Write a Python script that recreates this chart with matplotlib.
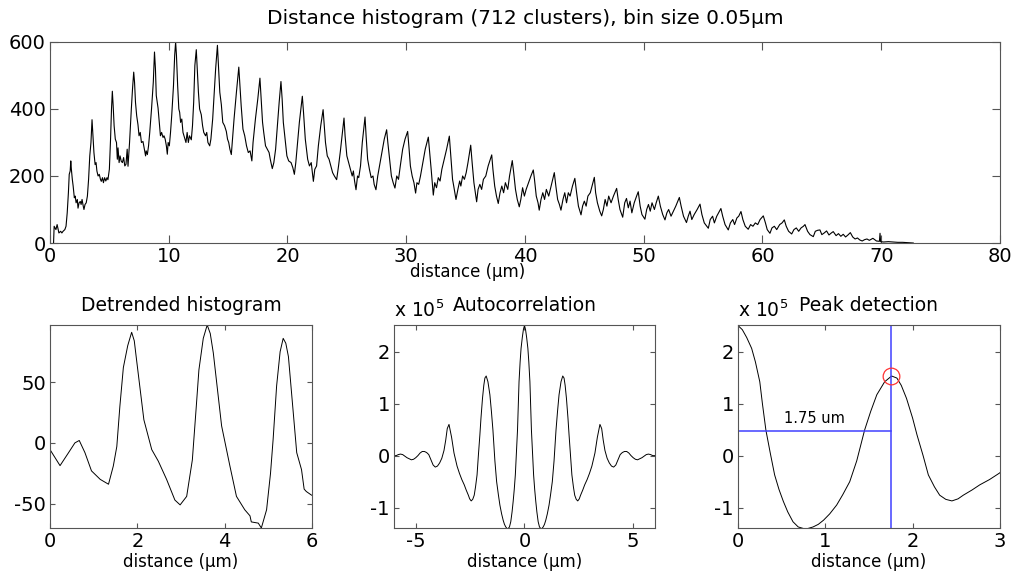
############################################################
# distance histogram + detrended / autocorrelation / peak panels
import numpy as np
import matplotlib
matplotlib.use('Agg')
import matplotlib.pyplot as plt

############################################################
# data
############################################################

# top panel: distance histogram (um, counts)
hist_x = [0.30, 0.35, 0.5, 0.6, 0.75, 0.9, 1.0, 1.1, 1.25, 1.35, 1.45, 1.55, 1.62, 1.7, 1.75, 1.8, 1.88, 1.95,
          2.05, 2.12, 2.2, 2.3, 2.36, 2.45, 2.55, 2.62, 2.7, 2.8, 2.86, 2.95, 3.05, 3.15, 3.25, 3.35, 3.45, 3.54,
          3.6, 3.7, 3.8, 3.88, 3.95, 4.05, 4.15, 4.25, 4.32, 4.42, 4.5, 4.6, 4.7, 4.8, 4.88, 5.0, 5.1, 5.18, 5.25,
          5.32, 5.4, 5.5, 5.6, 5.67, 5.73, 5.82, 5.9, 6.0, 6.1, 6.2, 6.3, 6.4, 6.5, 6.57, 6.7, 6.85, 6.95, 7.05,
          7.12, 7.2, 7.3, 7.41, 7.5, 7.6, 7.7, 7.83, 7.95, 8.05, 8.1, 8.2, 8.3, 8.4, 8.55, 8.7, 8.8, 8.88, 8.95,
          9.1, 9.2, 9.3, 9.4, 9.52, 9.6, 9.7, 9.8, 9.88, 9.95, 10.05, 10.15, 10.25, 10.4, 10.5, 10.58, 10.65,
          10.75, 10.85, 10.92, 11.0, 11.1, 11.2, 11.34, 11.45, 11.55, 11.65, 11.75, 11.9, 12.0, 12.1, 12.2, 12.32,
          12.4, 12.5, 12.6, 12.74, 12.85, 12.95, 13.1, 13.2, 13.3, 13.45, 13.55, 13.7, 13.8, 13.95, 14.1, 14.2,
          14.3, 14.43, 14.55, 14.7, 14.85, 14.95, 15.05, 15.15, 15.27, 15.35, 15.5, 15.7, 15.9, 16.0, 16.1, 16.25,
          16.4, 16.55, 16.7, 16.85, 17.0, 17.1, 17.3, 17.5, 17.68, 17.78, 17.9, 18.0, 18.15, 18.3, 18.45, 18.55,
          18.72, 18.85, 19.0, 19.15, 19.3, 19.45, 19.55, 19.65, 19.8, 19.95, 20.1, 20.3, 20.45, 20.58, 20.7,
          20.85, 21.0, 21.25, 21.35, 21.5, 21.7, 21.85, 22.0, 22.1, 22.18, 22.3, 22.45, 22.6, 22.8, 23.0, 23.1,
          23.2, 23.35, 23.5, 23.65, 23.8, 23.95, 24.14, 24.3, 24.45, 24.6, 24.76, 24.85, 25.0, 25.15, 25.3,
          25.45, 25.55, 25.65, 25.77, 25.9, 26.0, 26.15, 26.3, 26.53, 26.62, 26.75, 26.9, 27.05, 27.2, 27.3,
          27.45, 27.6, 27.75, 27.95, 28.15, 28.35, 28.45, 28.6, 28.75, 28.9, 29.05, 29.2, 29.35, 29.5, 29.7,
          29.9, 30.12, 30.22, 30.35, 30.5, 30.65, 30.79, 30.9, 31.05, 31.2, 31.4, 31.6, 31.86, 31.95, 32.1,
          32.28, 32.4, 32.55, 32.7, 32.85, 33.0, 33.2, 33.4, 33.63, 33.75, 33.9, 34.0, 34.19, 34.35, 34.5, 34.6,
          34.75, 34.9, 35.05, 35.2, 35.43, 35.55, 35.7, 35.93, 36.05, 36.2, 36.35, 36.5, 36.7, 36.9, 37.2, 37.3,
          37.45, 37.6, 37.75, 37.9, 38.05, 38.2, 38.35, 38.55, 38.7, 38.93, 39.05, 39.2, 39.35, 39.52, 39.65,
          39.8, 39.95, 40.1, 40.3, 40.5, 40.7, 40.8, 40.95, 41.1, 41.2, 41.35, 41.5, 41.65, 41.8, 42.0, 42.2,
          42.47, 42.6, 42.75, 42.9, 43.03, 43.2, 43.35, 43.5, 43.65, 43.8, 44.0, 44.2, 44.35, 44.5, 44.72, 44.85,
          45.0, 45.15, 45.3, 45.5, 45.84, 45.95, 46.1, 46.3, 46.46, 46.6, 46.75, 46.9, 47.05, 47.25, 47.45, 47.72,
          47.85, 48.0, 48.23, 48.4, 48.55, 48.7, 48.85, 49.0, 49.2, 49.4, 49.54, 49.7, 49.85, 50.1, 50.25, 50.4,
          50.55, 50.7, 50.9, 51.05, 51.23, 51.4, 51.6, 51.79, 51.95, 52.1, 52.3, 52.5, 52.7, 53.0, 53.15, 53.35,
          53.6, 53.75, 53.9, 54.05, 54.25, 54.5, 54.74, 54.9, 55.1, 55.44, 55.6, 55.8, 55.95, 56.15, 56.3, 56.5,
          56.65, 56.85, 57.12, 57.3, 57.5, 57.65, 57.85, 58.0, 58.19, 58.35, 58.55, 58.8, 59.0, 59.2, 59.4, 59.6,
          59.8, 60.07, 60.25, 60.4, 60.63, 60.8, 61.0, 61.2, 61.45, 61.65, 61.84, 62.0, 62.2, 62.46, 62.65, 62.85,
          63.05, 63.25, 63.45, 63.58, 63.8, 64.0, 64.28, 64.45, 64.65, 64.84, 65.0, 65.2, 65.4, 65.6, 65.8, 65.96,
          66.2, 66.4, 66.6, 66.8, 67.0, 67.2, 67.4, 67.6, 67.8, 68.0, 68.2, 68.4, 68.6, 68.8, 69.0, 69.3, 69.6,
          69.85, 69.9, 69.95, 70.2, 70.6, 71.0, 71.4, 71.8, 72.2, 72.7]
hist_y = [0, 50, 40, 55, 30, 35, 30, 35, 40, 50, 90, 150, 205, 215, 245, 220, 190, 170,
          135, 140, 120, 130, 104, 120, 124, 115, 130, 110, 100, 115, 120, 140, 190, 260, 300, 368,
          330, 270, 234, 240, 215, 200, 205, 190, 184, 195, 180, 195, 185, 195, 189, 220, 310, 400, 453,
          410, 350, 310, 300, 250, 284, 240, 260, 244, 240, 255, 230, 235, 280, 229, 300, 400, 460, 510,
          480, 420, 380, 353, 320, 330, 300, 303, 280, 260, 275, 264, 290, 330, 400, 480, 570, 520, 440,
          403, 360, 320, 330, 315, 320, 310, 290, 265, 300, 290, 330, 380, 470, 560, 600, 560,
          470, 400, 390, 360, 370, 330, 313, 300, 330, 300, 320, 308, 350, 420, 530, 577,
          520, 450, 400, 383, 350, 330, 320, 330, 300, 290, 310, 370, 430, 520, 590, 520,
          450, 413, 360, 350, 333, 310, 300, 280, 264, 300, 370, 450, 525, 470, 410, 340,
          320, 290, 270, 275, 245, 300, 370, 430, 492, 430, 360, 330, 290, 280, 270, 250,
          222, 240, 280, 350, 420, 482, 430, 360, 310, 260, 245, 240, 225, 205, 240,
          300, 360, 438, 390, 310, 250, 230, 240, 210, 184, 220, 230, 290, 350, 398, 350,
          300, 260, 250, 230, 210, 200, 189, 230, 273, 320, 373, 320, 260, 240, 220,
          200, 215, 185, 159, 200, 195, 230, 300, 376, 320, 250, 220, 195, 200, 175,
          159, 200, 230, 270, 310, 338, 300, 250, 200, 180, 164, 200, 190, 230, 280,
          310, 333, 290, 230, 200, 180, 149, 180, 175, 200, 240, 280, 316, 280, 220,
          143, 180, 165, 195, 185, 220, 250, 280, 319, 260, 190, 170, 130, 160, 185, 170,
          200, 190, 210, 240, 292, 240, 180, 123, 160, 175, 160, 190, 200, 230, 263, 220,
          170, 140, 118, 150, 170, 150, 180, 160, 200, 246, 210, 160, 130, 108, 130,
          165, 140, 160, 180, 200, 218, 190, 140, 120, 98, 130, 150, 130, 160, 140, 170,
          210, 170, 130, 115, 98, 130, 150, 120, 150, 140, 170, 193, 150, 110, 84, 110,
          125, 110, 140, 150, 196, 150, 120, 95, 81, 100, 130, 110, 140, 120, 140, 163,
          130, 100, 77, 120, 133, 105, 125, 90, 120, 140, 153, 110, 85, 71, 100, 115,
          95, 120, 100, 120, 140, 110, 85, 69, 90, 100, 80, 95, 110, 136, 110, 80,
          61, 80, 95, 70, 85, 100, 116, 85, 60, 44, 70, 80, 60, 80, 90, 103,
          80, 55, 39, 60, 70, 55, 75, 80, 94, 70, 50, 41, 55, 50, 60, 55,
          70, 81, 60, 40, 29, 45, 50, 40, 55, 60, 69, 50, 35, 27, 40, 45,
          35, 45, 50, 55, 35, 25, 19, 35, 38, 39, 25, 30, 36, 24, 30, 34,
          22, 28, 20, 26, 18, 24, 31, 18, 12, 15, 9, 6, 10, 12, 8, 14, 6,
          5, 29, 4, 3, 4, 3, 2, 2, 1, 0]

# bottom left: detrended histogram
det_x = [0.0, 0.23, 0.42, 0.57, 0.67, 0.8, 0.95, 1.15, 1.34, 1.45, 1.53, 1.6, 1.68, 1.78, 1.87, 1.93, 1.98,
         2.15, 2.33, 2.48, 2.67, 2.86, 2.98, 3.13, 3.26, 3.35, 3.41, 3.51, 3.6, 3.67, 3.74, 3.93, 4.12, 4.27,
         4.46, 4.58, 4.61, 4.77, 4.84, 4.96, 5.05, 5.11, 5.19, 5.27, 5.34, 5.4, 5.46, 5.65, 5.76, 5.82, 5.87,
         5.99]
det_y = [-5.5, -18.7, -8.3, 0, 2, -8, -23, -30, -34, -19, -3, 30, 62, 80, 91, 84, 69,
         19, -5.5, -15, -30, -47, -51, -44, -14, 30, 60, 86, 97, 90, 74, 14, -19, -44,
         -55, -60, -65, -66, -70, -55, -25, 3, 47, 75, 86, 82, 71, -8, -22, -38, -40,
         -43]

# autocorrelation, positive lags (x1e5); curve is symmetric
acf_x = [0.0, 0.05, 0.1, 0.157, 0.2, 0.25, 0.28, 0.32, 0.37, 0.42, 0.47, 0.52, 0.57, 0.63, 0.69, 0.75,
         0.8, 0.86, 0.92, 0.98, 1.05, 1.13, 1.2, 1.28, 1.36, 1.45, 1.52, 1.59, 1.68, 1.76, 1.82, 1.87, 1.93,
         2.0, 2.05, 2.12, 2.18, 2.25, 2.31, 2.38, 2.45, 2.52, 2.58, 2.68, 2.77, 2.88, 2.99, 3.1, 3.24, 3.35,
         3.47, 3.55, 3.62, 3.7, 3.8, 3.9, 4.0, 4.1, 4.2, 4.3, 4.4, 4.5, 4.6, 4.7, 4.8, 4.9, 5.0, 5.1, 5.2,
         5.3, 5.4, 5.5, 5.6, 5.7, 5.8, 5.9, 6.0]
acf_y = [2.50, 2.42, 2.27, 2.06, 1.8, 1.42, 1.0, 0.49, 0.05, -0.37, -0.65, -0.88, -1.08, -1.27, -1.37, -1.40,
         -1.40, -1.37, -1.32, -1.24, -1.12, -0.95, -0.75, -0.50, -0.10, 0.49, 0.85, 1.17, 1.42, 1.53, 1.49,
         1.35, 1.10, 0.72, 0.40, 0.0, -0.37, -0.60, -0.76, -0.84, -0.87, -0.83, -0.76, -0.66, -0.56, -0.46,
         -0.34, -0.20, 0.05, 0.35, 0.60, 0.52, 0.30, 0.10, -0.05, -0.14, -0.20, -0.22, -0.18, -0.08, 0.02,
         0.06, 0.08, 0.08, 0.05, 0.0, -0.04, -0.07, -0.08, -0.06, -0.04, -0.01, 0.02, 0.03, 0.02, 0.0, 0.0]

peak_x = 1.75   # detected period (um)
peak_y = 1.53
half_y = 0.48   # level of the horizontal marker

############################################################
# figure
############################################################
plt.rcParams['font.family'] = 'DejaVu Sans'
plt.rcParams['axes.unicode_minus'] = False
plt.rcParams['xtick.direction'] = 'in'
plt.rcParams['ytick.direction'] = 'in'
plt.rcParams['xtick.top'] = True
plt.rcParams['ytick.right'] = True
plt.rcParams['axes.edgecolor'] = '#555555'
plt.rcParams['xtick.color'] = '#555555'
plt.rcParams['ytick.color'] = '#555555'
plt.rcParams['xtick.labelcolor'] = 'black'
plt.rcParams['ytick.labelcolor'] = 'black'

fig = plt.figure(figsize=(10.12, 5.79), dpi=100)

def style(ax, tl):
    ax.tick_params(labelsize=14, length=tl, width=0.8, pad=3)

### top: histogram ###
ax0 = fig.add_axes([0.0494, 0.5803, 0.9387, 0.3472])
ax0.plot(hist_x, hist_y, color='k', linewidth=0.8)
ax0.set_xlim(0, 80)
ax0.set_ylim(0, 600)
ax0.set_xticks(np.arange(0, 81, 10))
ax0.set_yticks([0, 200, 400, 600])
style(ax0, 6)
ax0.set_title('Distance histogram (712 clusters), bin size 0.05µm', fontsize=14.5, pad=13)
ax0.set_xlabel('distance (µm)', fontsize=12, labelpad=0)
ax0.xaxis.set_label_coords(0.44, -0.1)

### bottom left: detrended ###
ax1 = fig.add_axes([0.0494, 0.0881, 0.2589, 0.3506])
ax1.plot(det_x, det_y, color='k', linewidth=0.7)
ax1.set_xlim(0, 6)
ax1.set_ylim(-70, 97)
ax1.set_xticks([0, 2, 4, 6])
ax1.set_yticks([-50, 0, 50])
style(ax1, 3.5)
ax1.set_title('Detrended histogram', fontsize=13.5, pad=10)
ax1.set_xlabel('distance (µm)', fontsize=12, labelpad=1)

### bottom middle: autocorrelation ###
acf_full_x = np.concatenate([-np.array(acf_x[::-1]), acf_x[1:]])
acf_full_y = np.concatenate([acf_y[::-1], acf_y[1:]])
ax2 = fig.add_axes([0.3893, 0.0881, 0.2579, 0.3506])
ax2.plot(acf_full_x, acf_full_y, color='k', linewidth=0.7)
ax2.set_xlim(-6, 6)
ax2.set_ylim(-1.39, 2.51)
ax2.set_xticks([-5, 0, 5])
ax2.set_yticks([-1, 0, 1, 2])
style(ax2, 3.5)
ax2.set_title('Autocorrelation', fontsize=13.5, pad=10)
ax2.text(0.0, 1.02, 'x 10$^5$', transform=ax2.transAxes, fontsize=13.5, ha='left', va='bottom')
ax2.set_xlabel('distance (µm)', fontsize=12, labelpad=1)

### bottom right: peak detection ###
ax3 = fig.add_axes([0.7292, 0.0881, 0.2589, 0.3506])
ax3.plot(acf_x, acf_y, color='k', linewidth=0.7)
ax3.axvline(peak_x, color='#4040ff', linewidth=1.1)
ax3.plot([0, peak_x], [half_y, half_y], color='#4040ff', linewidth=1.1)
ax3.plot(peak_x, peak_y, 'o', markerfacecolor='none', markeredgecolor='#ff3333', markersize=12, markeredgewidth=0.9)
ax3.text(peak_x / 2, half_y + 0.08, '%.2f um' % peak_x, fontsize=10.5, ha='center', va='bottom')
ax3.set_xlim(0, 3)
ax3.set_ylim(-1.39, 2.51)
ax3.set_xticks([0, 1, 2, 3])
ax3.set_yticks([-1, 0, 1, 2])
style(ax3, 3.5)
ax3.set_title('Peak detection', fontsize=13.5, pad=10)
ax3.text(0.0, 1.02, 'x 10$^5$', transform=ax3.transAxes, fontsize=13.5, ha='left', va='bottom')
ax3.set_xlabel('distance (µm)', fontsize=12, labelpad=1)

plt.savefig('out.png', dpi=100)
